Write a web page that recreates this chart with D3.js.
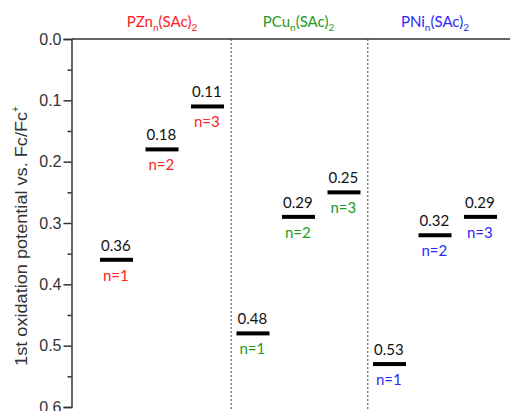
<!DOCTYPE html>
<html>
<head>
<meta charset="utf-8">
<script src="https://cdn.jsdelivr.net/npm/d3@7"></script>
<style>
  body { margin: 0; background: #fff; }
  svg { display: block; }
  .tick text { font-family: "Liberation Sans", Arial, sans-serif; font-size: 16px; fill: #333; }
  .lbl { font-family: Lato, "Open Sans", sans-serif; font-size: 15px; }
</style>
</head>
<body>
<svg id="chart" width="510" height="411"></svg>
<script>
// data
const groups = ["PZn", "PCu", "PNi"];
const groupColors = ["#ff2020", "#1e9a1e", "#2a2aff"];
const nLabels = ["n=1", "n=2", "n=3"];
const potentials = [
    [0.36, 0.18, 0.11],
    [0.48, 0.29, 0.25],
    [0.53, 0.32, 0.29]
];
const yTicks = [0.0, 0.1, 0.2, 0.3, 0.4, 0.5, 0.6];

const svg = d3.select("#chart");
const width = 510;
const plotTop = 39, plotBottom = 407, plotLeft = 71.5;

let y = d3.scaleLinear().domain([0, 0.6]).range([plotTop, plotBottom]);
let x = d3.scaleLinear().domain([0, 8]).range([116.5, 480.5]);

// dashed dividers between groups
svg.selectAll("line.divider")
    .data([2.5, 5.5])
    .enter()
    .append("line")
    .attr("class", "divider")
    .attr("x1", d => x(d) + 1).attr("x2", d => x(d) + 1)
    .attr("y1", plotTop).attr("y2", 411)
    .attr("stroke", "#666")
    .attr("stroke-width", 1.2)
    .attr("stroke-dasharray", "2,2");

// y axis
let yAxis = d3.axisLeft(y)
    .tickValues(yTicks)
    .tickFormat(d3.format(".1f"))
    .tickSize(8)
    .tickPadding(2);
let axisG = svg.append("g")
    .attr("transform", "translate(" + plotLeft + ",0)")
    .call(yAxis);
axisG.select(".domain").attr("stroke", "#333").attr("stroke-width", 1.5);
axisG.selectAll(".tick line").attr("stroke", "#333").attr("stroke-width", 1.5);

// minor ticks
let minorAxis = d3.axisLeft(y)
    .tickValues([0.05, 0.15, 0.25, 0.35, 0.45, 0.55])
    .tickFormat("")
    .tickSize(4);
let minorG = svg.append("g")
    .attr("transform", "translate(" + plotLeft + ",0)")
    .call(minorAxis);
minorG.select(".domain").remove();
minorG.selectAll(".tick line").attr("stroke", "#333").attr("stroke-width", 1.5);

// top frame line
svg.append("line")
    .attr("x1", plotLeft).attr("x2", width)
    .attr("y1", plotTop).attr("y2", plotTop)
    .attr("stroke", "#333")
    .attr("stroke-width", 1.5);

// axis title
let title = svg.append("text")
    .attr("transform", "translate(27,236) rotate(-90)")
    .attr("text-anchor", "middle")
    .style("font-family", "'Liberation Sans', Arial, sans-serif")
    .style("font-size", "17px")
    .attr("fill", "#333");
title.append("tspan")
    .attr("textLength", 254)
    .attr("lengthAdjust", "spacingAndGlyphs")
    .text("1st oxidation potential vs. Fc/Fc");
title.append("tspan").attr("dy", -8).style("font-size", "10px").text("+");

// group titles
groups.forEach(function (g, gi) {
    let t = svg.append("text")
        .attr("class", "lbl")
        .attr("x", x(gi * 3 + 1))
        .attr("y", 27)
        .attr("text-anchor", "middle")
        .attr("fill", groupColors[gi]);
    t.append("tspan").text(g);
    t.append("tspan").attr("dy", 4).style("font-size", "10px").text("n");
    t.append("tspan").attr("dy", -4).text("(SAc)");
    t.append("tspan").attr("dy", 4).style("font-size", "10px").text("2");
});

// levels
let levels = [];
potentials.forEach(function (row, gi) {
    row.forEach(function (v, ni) {
        levels.push({ group: gi, n: ni, slot: gi * 3 + ni, value: v });
    });
});

const barW = 33;
let levelG = svg.append("g").attr("id", "levels");

levelG.selectAll("rect.level")
    .data(levels)
    .enter()
    .append("rect")
    .attr("class", "level")
    .attr("x", d => x(d.slot) - barW / 2)
    .attr("y", d => y(d.value) - 2)
    .attr("width", barW)
    .attr("height", 4)
    .attr("fill", "#000");

levelG.selectAll("text.value")
    .data(levels)
    .enter()
    .append("text")
    .attr("class", "lbl value")
    .attr("x", d => x(d.slot) - barW / 2 + 1)
    .attr("y", d => y(d.value) - 9)
    .attr("fill", "#111")
    .text(d => d.value.toFixed(2));

levelG.selectAll("text.nlabel")
    .data(levels)
    .enter()
    .append("text")
    .attr("class", "lbl nlabel")
    .attr("x", d => x(d.slot) - barW / 2 + 3)
    .attr("y", d => y(d.value) + 21)
    .attr("fill", d => groupColors[d.group])
    .text(d => nLabels[d.n]);
</script>
</body>
</html>
